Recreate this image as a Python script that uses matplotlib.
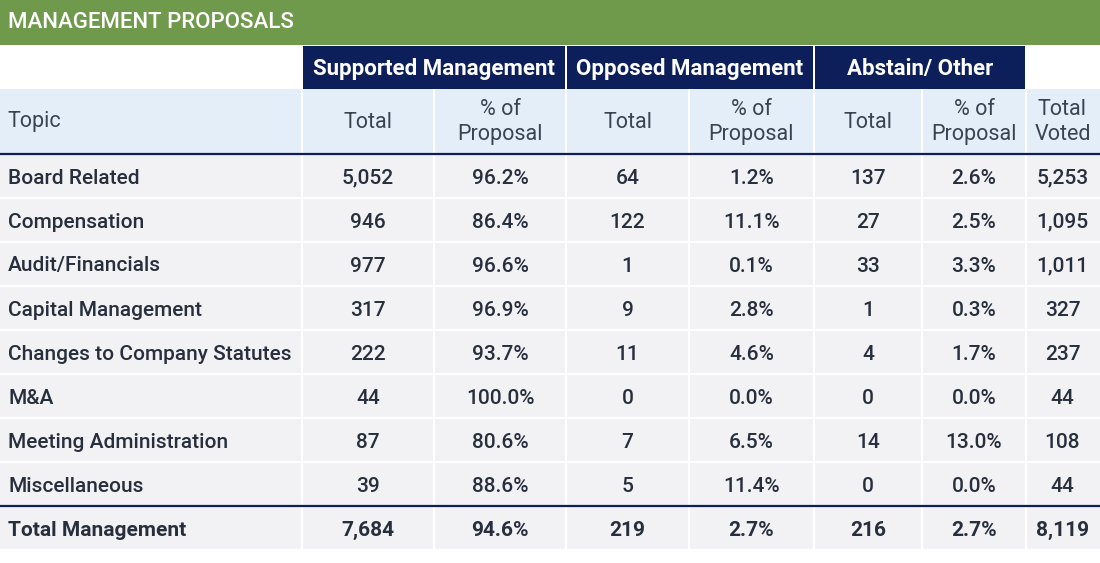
import matplotlib.pyplot as plt
from matplotlib.patches import Rectangle

# data
topics = ['Board Related', 'Compensation', 'Audit/Financials', 'Capital Management',
          'Changes to Company Statutes', 'M&A', 'Meeting Administration', 'Miscellaneous']
sup_total = [5052, 946, 977, 317, 222, 44, 87, 39]
sup_pct = [96.2, 86.4, 96.6, 96.9, 93.7, 100.0, 80.6, 88.6]
opp_total = [64, 122, 1, 9, 11, 0, 7, 5]
opp_pct = [1.2, 11.1, 0.1, 2.8, 4.6, 0.0, 6.5, 11.4]
abs_total = [137, 27, 33, 1, 4, 0, 14, 0]
abs_pct = [2.6, 2.5, 3.3, 0.3, 1.7, 0.0, 13.0, 0.0]
voted = [5253, 1095, 1011, 327, 237, 44, 108, 44]

total_label = 'Total Management'
total_row = [7684, 94.6, 219, 2.7, 216, 2.7, 8119]

groups = ['Supported Management', 'Opposed Management', 'Abstain/ Other']
sub_headers = ['Topic', 'Total', '% of\nProposal', 'Total', '% of\nProposal',
               'Total', '% of\nProposal', 'Total\nVoted']

GREEN = '#6f9a4b'
NAVY = '#0d1f5a'
LIGHT = '#e3eef8'
GREY = '#f2f2f5'
TXT = '#272f3d'
HTXT = '#3b4350'

plt.rcParams['font.family'] = ['Roboto', 'DejaVu Sans']

fig = plt.figure(figsize=(11, 5.63), dpi=100)
ax = fig.add_axes([0, 0, 1, 1])
ax.set_xlim(0, 1100)
ax.set_ylim(563, 0)
ax.axis('off')

# column edges
edges = [0, 303, 435, 567, 690, 815, 923, 1027, 1100]
gap = 2

def cell(x0, x1, y0, y1, color):
    ax.add_patch(Rectangle((x0, y0), x1 - x0 - gap, y1 - y0 - gap, facecolor=color,
                           edgecolor='none'))

def fmt_n(v):
    return f'{v:,}'

def fmt_p(v):
    return f'{v:.1f}%'

# title bar
ax.add_patch(Rectangle((0, 0), 1100, 45, facecolor=GREEN, edgecolor='none'))
ax.text(8, 23, 'MANAGEMENT PROPOSALS', color='white', fontsize=16, fontweight='medium',
        va='center', ha='left')

# group header row
y0, y1 = 46, 89
for g, (a, b) in zip(groups, [(1, 3), (3, 5), (5, 7)]):
    cell(edges[a], edges[b], y0, y1 + gap, NAVY)
    ax.text((edges[a] + edges[b] - gap) / 2, (y0 + y1) / 2 + 1, g, color='white',
            fontsize=16, fontweight='bold', ha='center', va='center')

# sub header row
y0, y1 = 89, 155
for i, h in enumerate(sub_headers):
    x1 = edges[i + 1] + (gap if i == 7 else 0)
    cell(edges[i], x1, y0, y1, LIGHT)
    if i == 0:
        ax.text(8, (y0 + y1) / 2, h, color=HTXT, fontsize=15.5, ha='left', va='center')
    else:
        ax.text((edges[i] + edges[i + 1] - gap) / 2, (y0 + y1) / 2, h, color=HTXT,
                fontsize=15.5, ha='center', va='center', linespacing=1.3)
ax.plot([0, 1100], [154, 154], color=NAVY, lw=1.6)

# body rows
row_h = 44
top = 155
for r, t in enumerate(topics):
    ry0 = top + r * row_h
    ry1 = ry0 + row_h
    vals = [t, fmt_n(sup_total[r]), fmt_p(sup_pct[r]), fmt_n(opp_total[r]),
            fmt_p(opp_pct[r]), fmt_n(abs_total[r]), fmt_p(abs_pct[r]), fmt_n(voted[r])]
    for i, v in enumerate(vals):
        x1 = edges[i + 1] + (gap if i == 7 else 0)
        cell(edges[i], x1, ry0, ry1, GREY)
        cy = (ry0 + ry1 - gap) / 2 + 2
        if i == 0:
            ax.text(8, cy, v, color=TXT, fontsize=15, fontweight='medium',
                    ha='left', va='center')
        else:
            ax.text((edges[i] + edges[i + 1] - gap) / 2, cy, v, color=TXT, fontsize=15,
                    fontweight='medium', ha='center', va='center')

# total row
ry0 = top + len(topics) * row_h
ry1 = ry0 + row_h
ax.plot([0, 1100], [ry0 - 1, ry0 - 1], color=NAVY, lw=1.6)
tvals = [total_label, fmt_n(total_row[0]), fmt_p(total_row[1]), fmt_n(total_row[2]),
         fmt_p(total_row[3]), fmt_n(total_row[4]), fmt_p(total_row[5]), fmt_n(total_row[6])]
for i, v in enumerate(tvals):
    x1 = edges[i + 1] + (gap if i == 7 else 0)
    cell(edges[i], x1, ry0, ry1, GREY)
    cy = (ry0 + ry1 - gap) / 2 + 2
    if i == 0:
        ax.text(8, cy, v, color=TXT, fontsize=15, fontweight='bold', ha='left', va='center')
    else:
        ax.text((edges[i] + edges[i + 1] - gap) / 2, cy, v, color=TXT, fontsize=15,
                fontweight='bold', ha='center', va='center')

fig.savefig('out.png', dpi=100)
